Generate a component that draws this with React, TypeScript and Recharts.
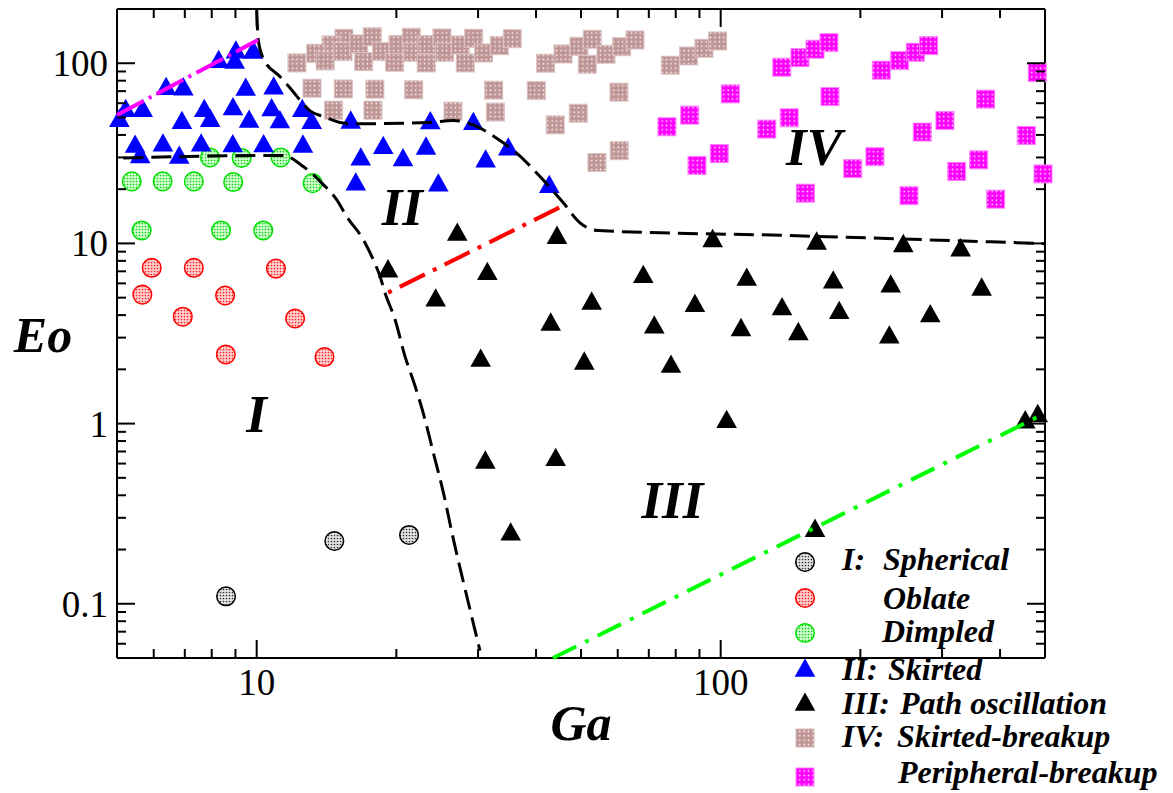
import React from 'react';
import { ScatterChart, Scatter, XAxis, YAxis, ReferenceLine, ReferenceDot, Legend } from 'recharts';

type Pt = [number, number];

// Ga, Eo pairs per regime
const spherical: Pt[] = [[8.59, 0.11], [14.7, 0.223], [21.3, 0.241]];
const oblate: Pt[] = [
  [5.94, 7.32], [7.32, 7.32], [11.0, 7.25], [5.67, 5.2], [8.55, 5.14],
  [6.93, 3.92], [12.1, 3.83], [8.58, 2.42], [14.0, 2.34],
];
const dimpled: Pt[] = [
  [5.38, 22.1], [6.27, 22.1], [7.32, 22.1], [8.9, 21.9], [13.2, 21.6],
  [7.93, 30.0], [9.28, 29.8], [11.26, 30.0], [5.65, 11.8], [8.38, 11.8], [10.33, 11.8],
];
const skirted: Pt[] = [
  [5.06, 49.6], [5.22, 56.3], [5.68, 56.3], [6.38, 74.6], [6.95, 74.2], [8.28, 105.2],
  [9.02, 118.9], [8.97, 104.3], [9.83, 118.5], [9.47, 73.9], [10.88, 75.1], [6.9, 48.3],
  [7.71, 56.3], [7.94, 49.6], [8.89, 57.5], [9.63, 49.0], [10.77, 56.8], [11.22, 48.7],
  [12.54, 56.3], [13.14, 48.3], [5.47, 35.6], [5.61, 31.2], [6.28, 36.2], [6.81, 31.0],
  [7.59, 36.2], [8.88, 35.9], [10.35, 35.9], [12.58, 35.7], [15.95, 48.5], [23.67, 48.1],
  [29.3, 47.7], [18.74, 35.1], [23.17, 34.8], [16.76, 30.3], [20.67, 30.0], [31.15, 29.5],
  [34.85, 34.4], [16.35, 22.0], [24.63, 21.7], [42.72, 21.3],
];
const pathOsc: Pt[] = [
  [19.19, 7.25], [24.31, 4.99], [27.06, 11.58], [31.41, 7.0], [30.39, 2.31], [31.1, 0.629],
  [35.27, 0.251], [43.02, 3.67], [44.1, 0.651], [44.38, 11.12], [50.82, 2.23], [52.72, 4.8],
  [68.11, 6.74], [71.93, 3.54], [78.14, 2.14], [88.0, 4.66], [96.1, 10.67], [103.0, 1.056],
  [110.6, 3.42], [113.8, 6.52], [135.6, 4.47], [147.0, 3.25], [159.7, 0.263], [161.0, 10.33],
  [174.8, 6.28], [180.1, 4.26], [230.9, 3.11], [232.5, 5.97], [247.5, 10.01], [282.9, 4.08],
  [329.0, 9.48], [365.1, 5.74], [453.4, 1.052], [482.3, 1.14],
];
const skirtedBreakup: Pt[] = [
  [15.42, 137.6], [14.46, 126.3], [13.41, 113.6], [14.05, 103.0], [12.21, 100.4], [15.35, 116.0],
  [16.59, 127.9], [17.75, 140.4], [17.01, 102.1], [18.6, 116.0], [20.16, 126.8], [21.54, 139.3],
  [19.83, 101.3], [21.72, 115.1], [23.28, 126.8], [25.08, 138.1], [23.2, 100.4], [25.42, 115.1],
  [27.47, 126.3], [29.36, 137.6], [28.16, 100.4], [30.84, 114.0], [33.33, 125.2], [35.55, 136.9],
  [41.96, 100.0], [45.73, 112.6], [49.51, 124.2], [52.88, 135.8], [51.58, 98.7], [56.6, 112.2],
  [61.17, 123.6], [65.36, 134.6], [77.87, 97.5], [85.31, 109.7], [92.04, 121.1], [98.5, 132.9],
  [13.16, 72.7], [15.37, 72.0], [17.98, 71.8], [21.8, 71.2], [32.42, 70.9], [40.05, 70.5],
  [60.36, 69.1], [14.65, 54.9], [17.81, 54.9], [26.49, 54.2], [32.68, 53.6], [49.33, 52.8],
  [44.0, 45.5], [60.45, 32.7], [54.12, 28.1],
];
const peripheralBreakup: Pt[] = [
  [76.6, 44.4], [85.77, 51.5], [88.9, 27.1], [99.3, 31.5], [104.9, 67.6], [125.7, 43.1],
  [135.4, 95.0], [140.5, 49.8], [148.2, 107.4], [159.7, 119.6], [171.1, 130.1], [172.0, 65.3],
  [152.2, 19.0], [192.6, 26.0], [215.0, 30.3], [221.9, 91.5], [243.1, 103.4], [262.7, 115.1],
  [280.7, 125.2], [271.9, 41.5], [304.3, 48.1], [254.6, 18.4], [322.6, 25.1], [359.7, 29.1],
  [372.4, 63.2], [391.4, 17.6], [455.6, 39.7], [481.3, 88.7], [495.1, 24.3],
];

// regime boundaries
const boundaryLower: Pt[] = [
  [5.16, 29.8], [11.41, 30.8], [12.6, 26.7], [13.92, 21.2], [14.87, 17.5], [15.63, 14.1],
  [16.97, 10.5], [17.83, 8.13], [18.44, 6.57], [18.9, 5.32], [19.87, 3.78], [20.87, 2.37],
  [21.94, 1.62], [23.05, 1.056], [24.02, 0.691], [25.25, 0.415], [26.53, 0.229], [27.8, 0.137],
  [30.28, 0.055],
];
const boundaryUpper: Pt[] = [
  [10.0, 197], [10.08, 134.6], [10.33, 106.6], [11.22, 84.3], [11.9, 71.1], [12.5, 60.8],
  [13.03, 54.4], [13.92, 50.6], [15.12, 46.9], [15.89, 46.1], [23.63, 46.9], [26.53, 48.1],
  [29.3, 45.5], [32.9, 38.4], [36.34, 31.7], [40.8, 23.5], [45.8, 16.8], [49.76, 13.0],
  [54.5, 11.78], [134.2, 11.09], [500, 9.97],
];
const magentaFit: Pt[] = [[5.0, 51.6], [10.07, 134.6]];
const redFit: Pt[] = [[19.2, 5.33], [46.2, 16.4]];
const greenFit: Pt[] = [[43.5, 0.05], [500, 1.14]];

const xTicks = [6, 7, 8, 9, 10, 20, 30, 40, 50, 60, 70, 80, 90, 100, 200, 300, 400];
const xMajor = [10, 100];
const yTicks = [
  0.06, 0.07, 0.08, 0.09, 0.1, 0.2, 0.3, 0.4, 0.5, 0.6, 0.7, 0.8, 0.9,
  1, 2, 3, 4, 5, 6, 7, 8, 9, 10, 20, 30, 40, 50, 60, 70, 80, 90, 100,
];
const yMajor = [0.1, 1, 10, 100];

const regionNames = ['I', 'II', 'III', 'IV'];
const regionPos: Pt[] = [[10.0, 0.9], [20.6, 12.7], [78.7, 0.3], [158.9, 27.1]];

const legendPrefixes = ['I:', '', '', 'II:', 'III:', 'IV:', ''];
const legendNames = ['Spherical', 'Oblate', 'Dimpled', 'Skirted', 'Path oscillation', 'Skirted-breakup', 'Peripheral-breakup'];

const SERIF = '"Liberation Serif", "Times New Roman", serif';
const W = 1173;
const H = 793;
const PLOT = { left: 117, right: 1045, top: 9, bottom: 658 };
const Y_AXIS_W = 60;
const X_AXIS_H = 40;

const toXY = (pts: Pt[]) => pts.map(([x, y]) => ({ x, y }));

const circleShape = (fill: string, stroke: string) => (p: any) => (
  <circle cx={p.cx} cy={p.cy} r={9.3} fill={fill} stroke={stroke} strokeWidth={1.5} />
);
const triShape = (color: string) => (p: any) => (
  <polygon
    points={`${p.cx},${p.cy - 9.5} ${p.cx - 10.3},${p.cy + 8.8} ${p.cx + 10.3},${p.cy + 8.8}`}
    fill={color}
  />
);
const squareShape = (fill: string, edge: string) => (p: any) => (
  <rect x={p.cx - 9} y={p.cy - 9} width={18} height={18} fill={fill} stroke={edge} strokeWidth={1} />
);
const noShape = () => <g />;

const XTick = (props: any) => {
  const { x, payload } = props;
  const major = xMajor.includes(payload.value);
  const len = major ? 18 : 9;
  return (
    <g>
      <line x1={x} x2={x} y1={PLOT.bottom} y2={PLOT.bottom - len} stroke="#000" strokeWidth={2} />
      <line x1={x} x2={x} y1={PLOT.top} y2={PLOT.top + len} stroke="#000" strokeWidth={2} />
      {major && (
        <text x={x} y={PLOT.bottom + 37} textAnchor="middle" fontFamily={SERIF} fontSize={37} fill="#000">
          {payload.value}
        </text>
      )}
    </g>
  );
};

const YTick = (props: any) => {
  const { y, payload } = props;
  const major = yMajor.includes(payload.value);
  const len = major ? 18 : 9;
  return (
    <g>
      <line x1={PLOT.left} x2={PLOT.left + len} y1={y} y2={y} stroke="#000" strokeWidth={2} />
      <line x1={PLOT.right} x2={PLOT.right - len} y1={y} y2={y} stroke="#000" strokeWidth={2} />
      {major && (
        <text x={PLOT.left - 9} y={y + 13} textAnchor="end" fontFamily={SERIF} fontSize={37} fill="#000">
          {String(payload.value)}
        </text>
      )}
    </g>
  );
};

const regionShape = (label: string) => (p: any) => (
  <text x={p.cx} y={p.cy} textAnchor="middle" fontFamily={SERIF} fontSize={53} fontWeight="bold" fontStyle="italic" fill="#000">
    {label}
  </text>
);

// legend markers, all in page pixels
const LEG = { left: 780, top: 540, width: 393, height: 253 };
const legendMarkerY = [562, 598, 633, 668, 702, 738, 777];
const legendTextY = [570, 609, 642, 680, 714, 747, 783];
const legendNameX = [883, 883, 882, 888, 900, 897, 898];
const legendMarkers = [
  circleShape('url(#dotGray)', '#000'),
  circleShape('url(#dotRed)', '#ff0000'),
  circleShape('url(#dotGreen)', '#00e000'),
  triShape('#0000ff'),
  triShape('#000000'),
  squareShape('url(#dotBrown)', '#d9bcbc'),
  squareShape('url(#dotMagenta)', '#ff80ff'),
];

const renderLegend = () => (
  <svg width={LEG.width} height={LEG.height} style={{ overflow: 'visible' }}>
    {legendNames.map((name, i) => {
      const Marker = legendMarkers[i];
      const textStyle = { fontFamily: SERIF, fontSize: 32, fontWeight: 'bold' as const, fontStyle: 'italic' as const };
      return (
        <g key={name}>
          {Marker({ cx: 805 - LEG.left, cy: legendMarkerY[i] - LEG.top })}
          {legendPrefixes[i] && (
            <text x={842 - LEG.left} y={legendTextY[i] - LEG.top} fill="#000" style={textStyle}>
              {legendPrefixes[i]}
            </text>
          )}
          <text x={legendNameX[i] - LEG.left} y={legendTextY[i] - LEG.top} fill="#000" style={textStyle}>
            {name}
          </text>
        </g>
      );
    })}
  </svg>
);

const Patterns = () => (
  <svg width={0} height={0} style={{ position: 'absolute' }}>
    <defs>
      <pattern id="dotGray" width="3" height="3" patternUnits="userSpaceOnUse">
        <rect width="3" height="3" fill="#e6e6e6" />
        <circle cx="1.5" cy="1.5" r="0.85" fill="#333" />
      </pattern>
      <pattern id="dotRed" width="3" height="3" patternUnits="userSpaceOnUse">
        <rect width="3" height="3" fill="#ffd0d0" />
        <circle cx="1.5" cy="1.5" r="0.85" fill="#ff2020" />
      </pattern>
      <pattern id="dotGreen" width="3" height="3" patternUnits="userSpaceOnUse">
        <rect width="3" height="3" fill="#d0ffd0" />
        <circle cx="1.5" cy="1.5" r="0.85" fill="#10d010" />
      </pattern>
      <pattern id="dotBrown" width="4.4" height="4.4" patternUnits="userSpaceOnUse">
        <rect width="4.4" height="4.4" fill="#c09595" />
        <circle cx="2.2" cy="2.2" r="0.8" fill="#ffffff" />
      </pattern>
      <pattern id="dotMagenta" width="4.4" height="4.4" patternUnits="userSpaceOnUse">
        <rect width="4.4" height="4.4" fill="#ff00ff" />
        <circle cx="2.2" cy="2.2" r="0.8" fill="#ffffff" />
      </pattern>
    </defs>
  </svg>
);

export default function App() {
  return (
    <div style={{ position: 'absolute', left: 0, top: 0, width: W, height: H, background: '#fff' }}>
      <Patterns />
      <ScatterChart
        width={W}
        height={H}
        margin={{ top: PLOT.top, right: W - PLOT.right, bottom: H - PLOT.bottom - X_AXIS_H, left: PLOT.left - Y_AXIS_W }}
      >
        <XAxis
          dataKey="x"
          type="number"
          scale="log"
          domain={[5, 500]}
          ticks={xTicks}
          interval={0}
          height={X_AXIS_H}
          tickSize={0}
          tickMargin={0}
          tickLine={false}
          tick={<XTick />}
          axisLine={{ stroke: '#000', strokeWidth: 2 }}
          label={() => (
            <text x={(PLOT.left + PLOT.right) / 2} y={PLOT.bottom + 82} textAnchor="middle" fontFamily={SERIF} fontSize={50} fontWeight="bold" fontStyle="italic" fill="#000">
              Ga
            </text>
          )}
        />
        <YAxis
          dataKey="y"
          type="number"
          scale="log"
          domain={[0.05, 200]}
          ticks={yTicks}
          interval={0}
          width={Y_AXIS_W}
          tickSize={0}
          tickMargin={0}
          tickLine={false}
          tick={<YTick />}
          axisLine={{ stroke: '#000', strokeWidth: 2 }}
          label={() => (
            <text x={43} y={(PLOT.top + PLOT.bottom) / 2 + 18} textAnchor="middle" fontFamily={SERIF} fontSize={50} fontWeight="bold" fontStyle="italic" fill="#000">
              Eo
            </text>
          )}
        />
        <ReferenceLine y={200} stroke="#000" strokeWidth={2} />
        <ReferenceLine x={500} stroke="#000" strokeWidth={2} />

        <Scatter name="Spherical" data={toXY(spherical)} shape={circleShape('url(#dotGray)', '#000')} isAnimationActive={false} />
        <Scatter name="Oblate" data={toXY(oblate)} shape={circleShape('url(#dotRed)', '#ff0000')} isAnimationActive={false} />
        <Scatter name="Dimpled" data={toXY(dimpled)} shape={circleShape('url(#dotGreen)', '#00e000')} isAnimationActive={false} />
        <Scatter name="Skirted" data={toXY(skirted)} shape={triShape('#0000ff')} isAnimationActive={false} />
        <Scatter name="Path oscillation" data={toXY(pathOsc)} shape={triShape('#000000')} isAnimationActive={false} />
        <Scatter name="Skirted-breakup" data={toXY(skirtedBreakup)} shape={squareShape('url(#dotBrown)', '#dcc2c2')} isAnimationActive={false} />
        <Scatter name="Peripheral-breakup" data={toXY(peripheralBreakup)} shape={squareShape('url(#dotMagenta)', '#ff80ff')} isAnimationActive={false} />

        <Scatter data={toXY(boundaryLower)} shape={noShape} legendType="none" lineJointType="monotoneX"
          line={{ stroke: '#000', strokeWidth: 3, strokeDasharray: '20 8' }} isAnimationActive={false} />
        <Scatter data={toXY(boundaryUpper)} shape={noShape} legendType="none" lineJointType="monotoneX"
          line={{ stroke: '#000', strokeWidth: 3, strokeDasharray: '20 8' }} isAnimationActive={false} />
        <Scatter data={toXY(magentaFit)} shape={noShape} legendType="none"
          line={{ stroke: '#ff00ff', strokeWidth: 4, strokeDasharray: '30 6 3 6' }} isAnimationActive={false} />
        <Scatter data={toXY(redFit)} shape={noShape} legendType="none"
          line={{ stroke: '#ff0000', strokeWidth: 4, strokeDasharray: '4 9 28 9' }} isAnimationActive={false} />
        <Scatter data={toXY(greenFit)} shape={noShape} legendType="none"
          line={{ stroke: '#00ff00', strokeWidth: 4, strokeDasharray: '26 10 4 10' }} isAnimationActive={false} />

        {regionNames.map((name, i) => (
          <ReferenceDot key={name} x={regionPos[i][0]} y={regionPos[i][1]} r={0} shape={regionShape(name)} />
        ))}

        <Legend
          layout="vertical"
          align="center"
          verticalAlign="middle"
          wrapperStyle={{ left: LEG.left, top: LEG.top, width: LEG.width, height: LEG.height }}
          content={renderLegend}
        />
      </ScatterChart>
    </div>
  );
}
